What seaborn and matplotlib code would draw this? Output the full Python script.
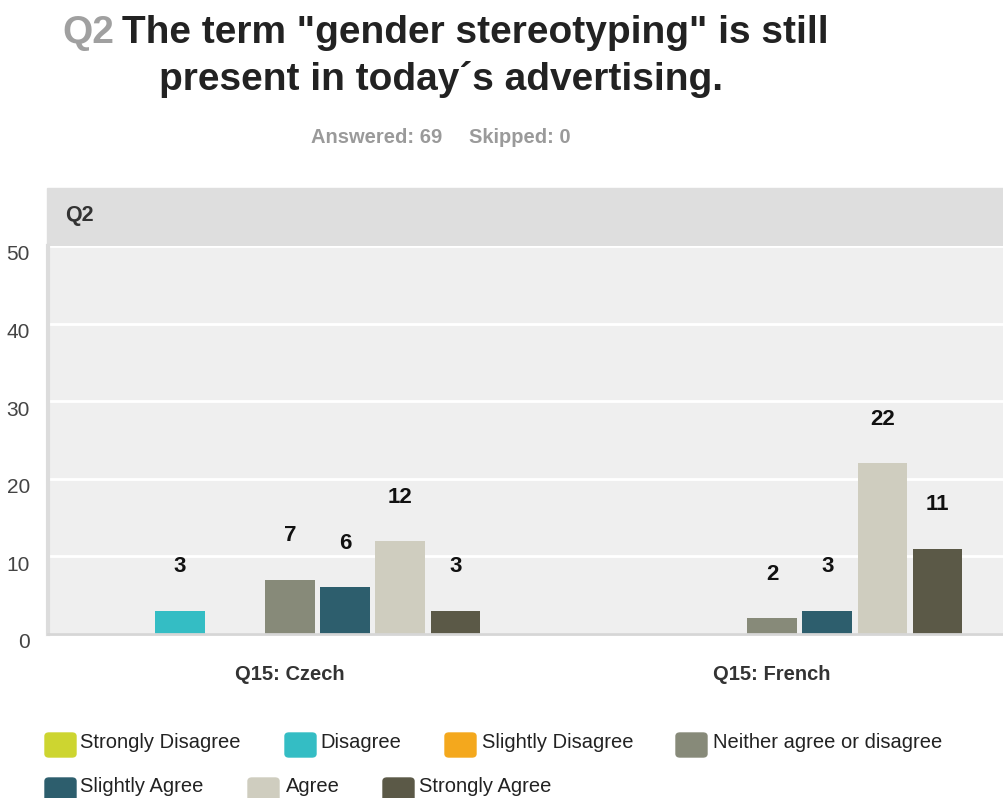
import matplotlib
matplotlib.use('Agg')
import matplotlib.pyplot as plt
from matplotlib.patches import Rectangle, FancyBboxPatch
from matplotlib.transforms import ScaledTranslation
import seaborn as sns
import pandas as pd

groups = ['Q15: Czech', 'Q15: French']
answers = ['Strongly Disagree', 'Disagree', 'Slightly Disagree',
           'Neither agree or disagree', 'Slightly Agree', 'Agree', 'Strongly Agree']
czech = [0, 3, 0, 7, 6, 12, 3]
french = [0, 0, 0, 2, 3, 22, 11]
colors = ['#cdd530', '#34bdc4', '#f4a81d', '#878a79', '#2d5e6d', '#cfcdbf', '#5b5947']
yticks = [0, 10, 20, 30, 40, 50]

rows = []
for g, vals in zip(groups, [czech, french]):
    for a, v in zip(answers, vals):
        rows.append({'group': g, 'answer': a, 'count': v})
df = pd.DataFrame(rows)

W, H = 1004, 798
fig = plt.figure(figsize=(W / 100, H / 100), dpi=100)
fig.patch.set_facecolor('white')
plt.rcParams['font.family'] = ['Liberation Sans', 'DejaVu Sans']


def fx(px):
    return px / W


def fy(py):
    return 1 - py / H


# header band above the plot
fig.add_artist(Rectangle((fx(47), fy(246)), fx(1004) - fx(47), fy(188) - fy(246),
                         transform=fig.transFigure, color='#dedede', zorder=0))
fig.text(fx(65), fy(215), 'Q2', fontsize=15.5, fontweight='bold', color='#333333',
         va='center', ha='left')

ax = fig.add_axes([fx(48), fy(634), 1 - fx(48), fy(246) - fy(634)])
ax.set_facecolor('#efefef')
sns.barplot(data=df, x='group', y='count', hue='answer', order=groups,
            hue_order=answers, palette=colors, gap=0.1, saturation=1,
            legend=False, ax=ax)

ax.set_xlim(-0.502, 1.481)
ax.set_ylim(0, 50)
ax.set_yticks(yticks)
ax.grid(axis='y', color='white', linewidth=2)
ax.grid(axis='x', visible=False)
ax.set_axisbelow(True)
for s in ['top', 'right']:
    ax.spines[s].set_visible(False)
ax.spines['left'].set_color('#dcdcdc')
ax.spines['left'].set_linewidth(3)
ax.spines['bottom'].set_color('#d6d6d6')
ax.spines['bottom'].set_linewidth(2)
ax.set_xlabel('')
ax.set_ylabel('')
ax.tick_params(axis='y', length=0, pad=13, labelsize=15, labelcolor='#444444')
ax.tick_params(axis='x', length=0, pad=22, labelsize=14.5, labelcolor='#333333')
for lab in ax.get_xticklabels():
    lab.set_fontweight('bold')
for lab in ax.get_yticklabels():
    lab.set_transform(lab.get_transform() + ScaledTranslation(0, -5 / 72, fig.dpi_scale_trans))

for cont in ax.containers:
    labels = [str(int(b.get_height())) if b.get_height() > 0 else '' for b in cont]
    ax.bar_label(cont, labels=labels, padding=24, fontsize=16, fontweight='bold', color='#111111')

# title
fig.text(fx(62), fy(43), 'Q2', fontsize=28, fontweight='bold', color='#a0a0a0',
         ha='left', va='baseline')
fig.text(fx(122), fy(43), 'The term "gender stereotyping" is still', fontsize=28,
         fontweight='bold', color='#222222', ha='left', va='baseline')
fig.text(fx(441), fy(90), 'present in today\u00b4s advertising.', fontsize=28,
         fontweight='bold', color='#222222', ha='center', va='baseline')
fig.text(fx(311), fy(143), 'Answered: 69', fontsize=14.5, fontweight='bold',
         color='#9a9a9a', ha='left', va='baseline')
fig.text(fx(469), fy(143), 'Skipped: 0', fontsize=14.5, fontweight='bold',
         color='#9a9a9a', ha='left', va='baseline')

# legend, laid out like the survey tool does: (patch x, patch top, text x, text centre y)
legend_pos = [(45, 733, 80, 742), (285, 733, 320, 742), (445, 733, 482, 742),
              (676, 733, 713, 742), (45, 778, 80, 787), (248, 778, 286, 787),
              (383, 778, 419, 787)]
for (px, py, tx, ty), name, col in zip(legend_pos, answers, colors):
    fig.add_artist(FancyBboxPatch((fx(px), fy(py + 24)), fx(31), 24 / H,
                                  boxstyle='round,pad=0,rounding_size=0.004',
                                  transform=fig.transFigure, color=col))
    fig.text(fx(tx), fy(ty), name, fontsize=14.5, color='#222222',
             ha='left', va='center')

fig.savefig('out.png', dpi=100)
